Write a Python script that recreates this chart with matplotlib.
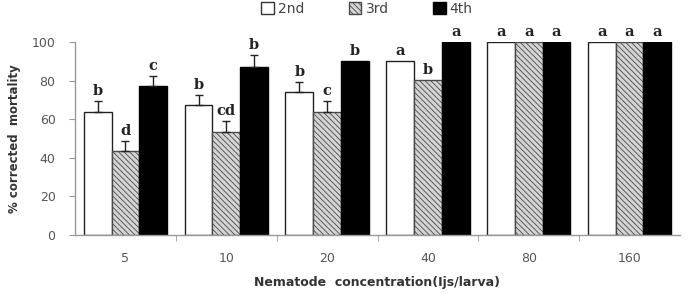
import matplotlib
matplotlib.use("Agg")
import matplotlib.pyplot as plt
import numpy as np
from matplotlib.patches import Patch

categories = ["5", "10", "20", "40", "80", "160"]
series_names = ["2nd", "3rd", "4th"]
vals_2nd = [63.6, 67.2, 73.9, 90.2, 100, 100]
vals_3rd = [43.5, 53.4, 63.9, 80.3, 100, 100]
vals_4th = [77.2, 86.9, 90.2, 100, 100, 100]
err_2nd = [5.8, 5.3, 5.4, 0, 0, 0]
err_3rd = [5.4, 5.8, 5.7, 0, 0, 0]
err_4th = [5.3, 6.4, 0, 0, 0, 0]
let_2nd = ["b", "b", "b", "a", "a", "a"]
let_3rd = ["d", "cd", "c", "b", "a", "a"]
let_4th = ["c", "b", "b", "a", "a", "a"]
y_ticks = [0, 20, 40, 60, 80, 100]

plt.rcParams['hatch.linewidth'] = 0.6

fig = plt.figure(figsize=(6.89, 2.94), dpi=100)
ax = fig.add_axes([75/689, 1-235/294, 605/689, 193/294])

x = np.arange(len(categories))
w = 0.275
styles = [
    dict(facecolor="white", edgecolor="#222222", hatch=None),
    dict(facecolor="#d4d4d4", edgecolor="#4a4a4a", hatch="\\\\\\\\\\\\"),
    dict(facecolor="black", edgecolor="black", hatch=None),
]
series = [vals_2nd, vals_3rd, vals_4th]
errs = [err_2nd, err_3rd, err_4th]
lets = [let_2nd, let_3rd, let_4th]
for i, (v, e, l, st) in enumerate(zip(series, errs, lets, styles)):
    pos = x + (i - 1) * w
    ax.bar(pos, v, width=w, linewidth=1.0, zorder=2, **st)
    v_a = np.array(v)
    e_a = np.array(e)
    m = e_a > 0
    ax.errorbar(pos[m], v_a[m], yerr=[np.zeros(m.sum()), e_a[m]], fmt="none",
                ecolor="#222222", elinewidth=1.0, capsize=2.6, capthick=1.0, zorder=3)
    for p, val, err, lab in zip(pos, v, e, l):
        ax.text(p, val + err + 1.5, lab, ha="center", va="bottom",
                fontsize=10.5, fontweight="bold", family="DejaVu Serif",
                color="#222222", clip_on=False)

ax.set_xlim(-0.5, 5.5)
ax.set_ylim(0, 100)
ax.set_yticks(y_ticks)
ax.set_xticks(x)
ax.set_xticklabels(categories)
ax.set_xticks(x[:-1] + 0.5, minor=True)
ax.tick_params(axis="x", which="major", length=0, pad=12, labelsize=9, labelcolor="#555555")
ax.tick_params(axis="x", which="minor", length=4, color="#999999", direction="out")
ax.tick_params(axis="y", length=4, color="#999999", labelsize=9, labelcolor="#555555", pad=10)
for s in ["top", "right"]:
    ax.spines[s].set_visible(False)
for s in ["left", "bottom"]:
    ax.spines[s].set_color("#999999")
    ax.spines[s].set_linewidth(1.0)

ax.set_xlabel("Nematode  concentration(Ijs/larva)", fontsize=9, fontweight="bold",
              color="#333333", labelpad=8)
ax.set_ylabel("% corrected  mortality", fontsize=8.5, fontweight="bold",
              color="#333333", labelpad=8)

handles = [Patch(facecolor="white", edgecolor="#333333"),
           Patch(facecolor="#d4d4d4", edgecolor="#4a4a4a", hatch="\\\\\\\\\\\\"),
           Patch(facecolor="black", edgecolor="black")]
fig.legend(handles, series_names, loc="center", bbox_to_anchor=(367/689, 1-9/294),
           ncol=3, frameon=False, fontsize=10, handlelength=0.9, handleheight=0.9,
           handletextpad=0.3, columnspacing=3.2, labelcolor="#444444")

fig.savefig("out.png", dpi=100)
